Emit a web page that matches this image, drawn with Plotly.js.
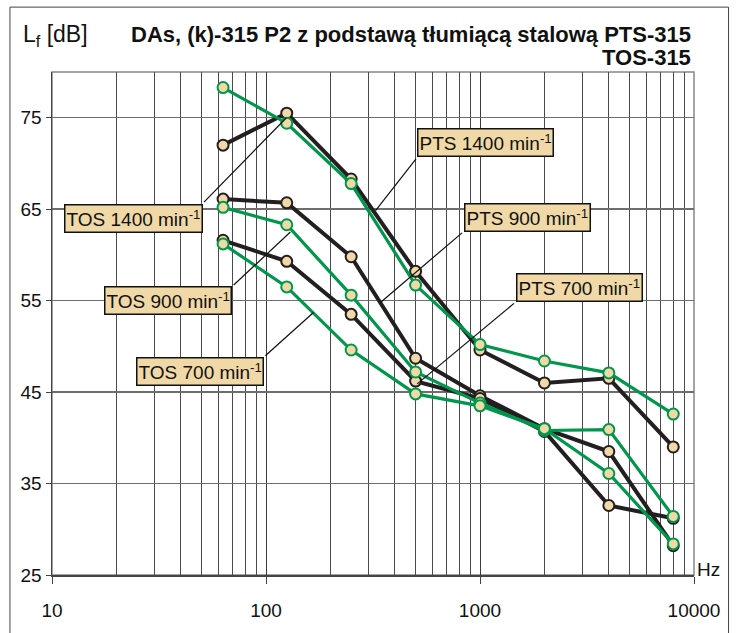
<!DOCTYPE html>
<html>
<head>
<meta charset="utf-8">
<script src="https://cdn.plot.ly/plotly-3.0.1.min.js"></script>
<style>html,body{margin:0;padding:0;background:#fff;}#chart{width:738px;height:633px;}</style>
</head>
<body>
<div id="chart"></div>
<script>
// ---- data ----
const freqs = [63, 125, 250, 500, 1000, 2000, 4000, 8000];
const pts1400 = [72.0, 75.5, 68.3, 58.2, 49.6, 46.0, 46.5, 39.0];
const pts900  = [66.1, 65.7, 59.8, 48.7, 44.6, 41.0, 38.5, 28.2];
const pts700  = [61.6, 59.3, 53.5, 46.2, 44.3, 40.7, 32.6, 31.2];
const tos1400 = [78.3, 74.4, 67.8, 56.7, 50.2, 48.4, 47.1, 42.6];
const tos900  = [65.2, 63.3, 55.6, 47.2, 43.8, 40.8, 40.9, 31.4];
const tos700  = [61.2, 56.5, 49.6, 44.8, 43.5, 41.0, 36.1, 28.4];

const xMajorTicks = [10, 100, 1000, 10000];
const xMajorLabels = ['10', '100', '1000', '10000'];
const xMinorTicks = [20,30,40,50,60,70,80,90,200,300,400,500,600,700,800,900,2000,3000,4000,5000,6000,7000,8000,9000];
const yTicks = [25, 35, 45, 55, 65, 75];

const seriesNames = ['PTS 1400 min<sup>-1</sup>','PTS 900 min<sup>-1</sup>','PTS 700 min<sup>-1</sup>',
                     'TOS 1400 min<sup>-1</sup>','TOS 900 min<sup>-1</sup>','TOS 700 min<sup>-1</sup>'];
const titleLine1 = 'DAs, (k)-315 P2 z podstawą tłumiącą stalową PTS-315';
const titleLine2 = 'TOS-315';

// ---- styles ----
const BLACK = '#231f20', GREEN = '#00964b', FILL = '#f0d9a7';
const FONT = 'Liberation Sans, Arial, sans-serif';

function series(y, color, lw, name) {
  return {
    x: freqs, y: y, type: 'scatter', mode: 'lines+markers', name: name,
    line: {color: color, width: lw},
    marker: {size: 11, color: FILL, line: {color: color, width: 2}},
    hoverinfo: 'x+y'
  };
}

const data = [
  series(pts1400, BLACK, 4, seriesNames[0]),
  series(pts900, BLACK, 4, seriesNames[1]),
  series(pts700, BLACK, 4, seriesNames[2]),
  series(tos1400, GREEN, 3.2, seriesNames[3]),
  series(tos900, GREEN, 3.2, seriesNames[4]),
  series(tos700, GREEN, 3.2, seriesNames[5])
];

const L = Math.log10;
function labelBox(text, cx, cy, xanchor, yanchor) {
  return {xref: 'x', yref: 'y', x: L(cx), y: cy, text: text, showarrow: false,
    xanchor: xanchor, yanchor: yanchor, bgcolor: FILL, bordercolor: '#111', borderwidth: 1.5,
    borderpad: 1, font: {family: FONT, size: 19, color: '#111'}};
}
function leader(fromX, fromY, toX, toY) {
  return {xref: 'x', yref: 'y', x: L(toX), y: toY, axref: 'x', ayref: 'y', ax: L(fromX), ay: fromY,
    text: '', showarrow: true, arrowhead: 0, arrowwidth: 1.2, arrowcolor: '#111', standoff: 0, startstandoff: 0};
}

const annotations = [
  leader(50.5, 65.6, 124.6, 75.0),
  leader(69.5, 56.55, 130, 62.5),
  leader(97.7, 48.83, 166.7, 53.7),
  leader(508.8, 70.67, 325, 64.85),
  leader(837.5, 62.55, 342.7, 54.8),
  leader(1466, 54.84, 508.8, 45.9),
  labelBox(seriesNames[3], 50.5, 65.6, 'right', 'top'),
  labelBox(seriesNames[4], 69.5, 56.55, 'right', 'top'),
  labelBox(seriesNames[5], 97.7, 48.83, 'right', 'top'),
  labelBox(seriesNames[0], 508.8, 70.67, 'left', 'bottom'),
  labelBox(seriesNames[1], 837.5, 62.55, 'left', 'bottom'),
  labelBox(seriesNames[2], 1466, 54.84, 'left', 'bottom'),
  {xref: 'paper', yref: 'paper', x: 0.9977, y: 1.0755, xanchor: 'right', yanchor: 'middle',
   text: '<b>' + titleLine1 + '</b>', showarrow: false, font: {family: FONT, size: 22, color: '#111'}},
  {xref: 'paper', yref: 'paper', x: 0.9977, y: 1.029, xanchor: 'right', yanchor: 'middle',
   text: '<b>' + titleLine2 + '</b>', showarrow: false, font: {family: FONT, size: 22, color: '#111'}},
  {xref: 'paper', yref: 'paper', x: -0.0485, y: 1.073, xanchor: 'left', yanchor: 'middle',
   text: 'L<sub>f</sub> [dB]', showarrow: false, font: {family: FONT, size: 23, color: '#111'}},
  {xref: 'paper', yref: 'paper', x: 1.002, y: 0.01, xanchor: 'left', yanchor: 'middle',
   text: 'Hz', showarrow: false, font: {family: FONT, size: 19, color: '#111'}}
];

const layout = {
  width: 738, height: 633,
  margin: {l: 52, r: 44, t: 72, b: 58},
  paper_bgcolor: '#ffffff', plot_bgcolor: '#ffffff',
  showlegend: false,
  font: {family: FONT, size: 19, color: '#111'},
  xaxis: {
    type: 'log', range: [1, 4],
    tickmode: 'array', tickvals: xMajorTicks, ticktext: xMajorLabels,
    ticks: 'outside', ticklen: 7, tickcolor: '#444', tickwidth: 1,
    ticklabelstandoff: 11,
    showgrid: true, gridcolor: '#3a3a3a', gridwidth: 1,
    minor: {tickmode: 'array', tickvals: xMinorTicks, showgrid: true, gridcolor: '#4a4a4a', gridwidth: 1, ticks: ''},
    showline: true, linecolor: '#444', linewidth: 1.5,
    zeroline: false, tickfont: {family: FONT, size: 19, color: '#111'}
  },
  yaxis: {
    range: [25, 80], tickmode: 'array', tickvals: yTicks,
    ticks: 'outside', ticklen: 5, tickcolor: '#444',
    showgrid: true, gridcolor: '#6e6e6e', gridwidth: 1.5,
    showline: true, linecolor: '#444', linewidth: 1.5,
    zeroline: false, tickfont: {family: FONT, size: 19, color: '#111'}
  },
  shapes: [
    {type: 'rect', xref: 'paper', yref: 'paper', x0: 0, x1: 1, y0: 0, y1: 1,
     line: {color: '#888', width: 1.5}, layer: 'below'},
    {type: 'rect', xref: 'paper', yref: 'paper', x0: -0.0655, x1: 1.0538, y0: -0.2, y1: 1.129,
     line: {color: '#444', width: 1}, layer: 'below'}
  ],
  annotations: annotations
};

Plotly.newPlot('chart', data, layout, {displayModeBar: false, staticPlot: true});
</script>
</body>
</html>
